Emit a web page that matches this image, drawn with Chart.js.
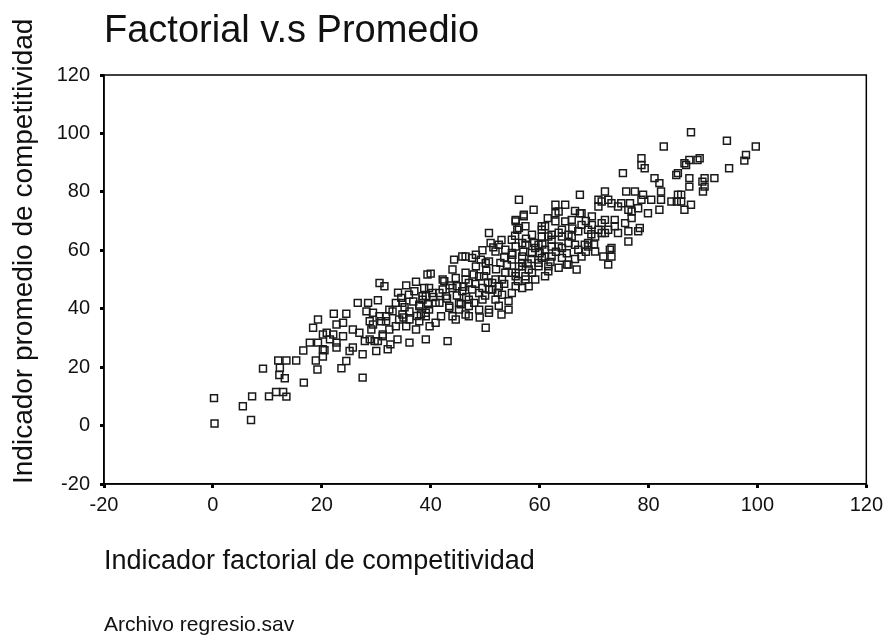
<!DOCTYPE html>
<html>
<head>
<meta charset="utf-8">
<script src="https://cdn.jsdelivr.net/npm/chart.js@4.4.1/dist/chart.umd.min.js"></script>
<style>
  html, body { margin: 0; padding: 0; background: #fff; }
  #wrap { position: relative; width: 888px; height: 636px; }
</style>
</head>
<body>
<div id="wrap"><canvas id="scatter"></canvas></div>
<script>
// Axis range shared by both scales
const AXIS_MIN = -20;
const AXIS_MAX = 120;
const AXIS_STEP = 20;

const TITLE = 'Factorial v.s Promedio';
const X_LABEL = 'Indicador factorial de competitividad';
const Y_LABEL = 'Indicador promedio de competitividad';
const SOURCE = 'Archivo regresio.sav';

// [factorial, promedio] pairs, grouped by part of the cloud
const lowerTail = [
  [0.3, 0.7], [0.2, 9.4], [7.0, 1.9], [5.5, 6.6], [7.2, 10.0], [10.3, 10.0], [11.6, 11.5], [12.9, 11.5], [13.5, 9.9], [16.7, 14.7],
  [9.2, 19.5], [12.0, 22.3], [13.5, 22.3], [15.3, 22.3], [12.3, 19.8], [12.2, 17.3], [13.2, 16.2], [19.2, 19.2], [18.9, 22.3], [20.2, 23.6],
  [16.6, 25.7], [17.8, 28.4], [20.5, 25.8], [19.3, 28.4], [18.4, 33.5], [19.3, 36.3], [20.2, 31.2], [22.1, 31.2], [22.2, 38.3], [22.7, 34.6],
  [24.5, 38.3], [23.9, 35.2], [22.7, 26.7], [23.6, 19.6], [24.5, 22.1], [25.7, 26.7], [27.5, 16.4], [26.9, 31.8], [27.5, 24.4], [26.6, 42.0],
  [28.5, 42.0], [30.3, 42.9], [30.6, 48.8], [31.5, 47.7], [29.7, 28.9], [30.0, 25.5], [27.9, 28.9], [29.1, 32.9], [30.9, 35.7], [31.8, 37.4],
  [29.4, 38.6], [31.2, 31.2], [32.1, 26.1], [28.8, 35.7], [30.3, 28.9]
];

const lowerBand = [
  [35.5, 48.0], [37.3, 49.2], [39.4, 51.7], [33.6, 42.0], [34.6, 43.7], [36.1, 28.4], [39.1, 29.5], [33.9, 29.5], [32.6, 27.8], [25.1, 25.5],
  [20.9, 31.8], [22.7, 28.4], [20.2, 26.1], [29.4, 34.6], [30.6, 37.4], [28.2, 39.1], [31.8, 35.7], [35.5, 34.0], [37.3, 32.9], [37.9, 35.7],
  [39.1, 38.6], [34.8, 38.0], [36.1, 39.1], [37.9, 41.4], [37.0, 46.0], [38.5, 44.3], [33.0, 39.1], [34.2, 36.3], [25.7, 32.9], [23.9, 30.6],
  [21.5, 29.5], [28.8, 29.5], [31.2, 30.6], [32.4, 32.9],
  [35.2, 40.5], [36.8, 42.5], [38.2, 38.0], [39.5, 41.5], [40.5, 44.0], [36.0, 44.8], [34.0, 45.5], [37.5, 37.5], [39.8, 34.0], [35.0, 37.0]
];

const middleBand = [
  [50.7, 65.9], [55.6, 69.9], [57.4, 68.2], [61.0, 68.2], [62.9, 69.9], [64.7, 69.9], [58.6, 65.3], [60.4, 64.7], [62.2, 65.3], [64.1, 64.7],
  [40.0, 52.0], [44.3, 56.8], [46.4, 57.9], [48.3, 58.5], [50.1, 55.7], [51.9, 59.6], [53.7, 60.2], [55.6, 61.3], [57.4, 61.9], [59.2, 60.8],
  [61.0, 57.9], [61.6, 54.5], [61.6, 52.8], [65.0, 55.1], [44.0, 53.4], [44.9, 47.7], [47.0, 48.8], [48.9, 51.1], [51.3, 48.8], [53.1, 50.0],
  [54.9, 52.3], [56.8, 54.5], [58.6, 52.3], [54.3, 42.6], [54.3, 39.7], [51.9, 43.1], [48.9, 39.7], [47.0, 43.1], [45.2, 39.7], [43.4, 40.3],
  [41.9, 37.4], [50.1, 33.5], [43.1, 28.9], [41.6, 45.4], [39.1, 44.3], [48.9, 45.4], [50.7, 46.6], [55.6, 47.7], [57.4, 50.0], [59.8, 55.7],
  [48.3, 54.5], [46.4, 52.3], [42.2, 50.0], [39.7, 47.1], [37.9, 40.9], [34.8, 42.0], [32.4, 39.7], [33.6, 34.0], [36.1, 36.3], [40.9, 35.2],
  [44.6, 36.3], [40.9, 42.0], [50.7, 38.6], [46.4, 38.0],
  [55.6, 70.4], [57.1, 71.6], [56.2, 67.6], [45.8, 57.9], [47.6, 57.4], [49.2, 56.8], [51.0, 62.5], [52.5, 61.9], [50.7, 56.2], [52.8, 55.7],
  [54.9, 56.8], [56.8, 55.7], [53.7, 52.3], [55.6, 52.3], [57.4, 51.1], [51.9, 50.0], [49.8, 51.1], [47.9, 51.7], [46.4, 50.0], [44.6, 50.5],
  [42.5, 49.4], [38.8, 47.1], [40.3, 45.4], [42.2, 46.6], [44.0, 47.1], [45.8, 46.0], [47.6, 46.6], [49.5, 47.1], [51.3, 46.6], [53.1, 44.8],
  [54.9, 45.4], [56.8, 47.1], [47.0, 40.9], [45.2, 42.0], [43.4, 40.9], [41.6, 42.0], [39.7, 39.7], [38.5, 43.1], [50.7, 39.7], [47.0, 37.4],
  [44.0, 37.4], [39.1, 37.4], [42.8, 44.3], [49.5, 43.1], [52.5, 47.7],
  [43.0, 43.5], [44.8, 44.5], [46.5, 44.0], [48.0, 42.0], [50.0, 44.5], [52.3, 45.5], [53.5, 48.5], [50.5, 49.0], [48.2, 48.5], [46.0, 47.5],
  [43.5, 48.0], [45.5, 41.5], [52.5, 41.0], [49.0, 37.0], [53.0, 38.0],
  [52.0, 53.5], [53.5, 57.5], [55.0, 58.5], [57.0, 59.5], [58.5, 57.0], [60.0, 59.0], [59.0, 62.5], [57.5, 64.0], [55.5, 65.0], [53.0, 63.5],
  [51.5, 61.0], [49.5, 60.0], [50.2, 53.0], [57.8, 55.5], [60.5, 62.0], [54.0, 55.0], [56.0, 49.5]
];

const upperBand = [
  [56.2, 77.3], [58.9, 73.9], [57.1, 72.2], [55.9, 67.0], [62.9, 72.7], [67.4, 72.7], [71.4, 69.3], [60.4, 67.0], [61.6, 64.7], [65.3, 65.3],
  [68.9, 67.0], [70.8, 67.0], [72.6, 67.0], [54.9, 63.6], [56.8, 62.5], [59.8, 61.9], [62.2, 61.3], [64.1, 60.8], [66.5, 61.9], [68.3, 61.9],
  [70.2, 59.6], [62.2, 57.9], [60.4, 57.4], [64.1, 57.4], [58.6, 59.1], [56.8, 57.9], [54.9, 59.1], [56.2, 54.5], [58.0, 53.4], [59.8, 54.5],
  [63.5, 54.0], [55.6, 51.1], [59.2, 50.0], [61.0, 51.1], [58.0, 47.7], [68.9, 61.3],
  [62.9, 75.6], [64.7, 75.6], [63.5, 73.3], [67.7, 72.7], [69.6, 71.6], [72.9, 60.2], [73.2, 57.9], [71.7, 57.9], [72.6, 55.1], [65.3, 55.1],
  [66.8, 53.4], [67.7, 57.9], [74.4, 65.9], [72.0, 65.9], [70.2, 64.7], [68.9, 62.5], [67.1, 60.2], [65.9, 64.7], [64.1, 67.0], [62.2, 63.6],
  [61.0, 60.2], [60.4, 68.2], [67.7, 68.7], [69.6, 68.7], [73.8, 70.4], [72.0, 70.4], [75.7, 69.3], [65.9, 70.4], [63.5, 61.3], [65.3, 62.5],
  [67.1, 66.5], [73.2, 60.8], [73.8, 68.2], [71.4, 65.9],
  [63.0, 59.5], [65.0, 59.0], [66.5, 57.0], [68.5, 59.5], [70.0, 62.0], [69.5, 65.5], [66.0, 67.5], [63.5, 66.0], [61.5, 71.0], [66.5, 73.5],
  [68.5, 70.0], [62.0, 56.0]
];

const upperTail = [
  [75.3, 86.4], [78.7, 89.2], [79.3, 88.1], [86.6, 89.8], [89.0, 90.9], [94.8, 88.1], [85.1, 85.8], [87.5, 84.7], [87.5, 81.8], [90.3, 84.7],
  [92.1, 84.7], [90.0, 80.1], [81.1, 84.7], [82.0, 83.0], [82.3, 80.1], [82.3, 77.3], [82.0, 73.9], [80.5, 77.3], [75.9, 80.1], [77.5, 80.1],
  [79.0, 79.0], [79.9, 72.7], [85.4, 79.0], [84.2, 76.7], [86.0, 76.7], [87.8, 75.6], [86.6, 73.9], [72.0, 80.1], [67.4, 79.0], [70.8, 77.3],
  [72.6, 77.3], [75.0, 76.1], [76.6, 76.1], [74.4, 75.0], [70.8, 75.0], [76.9, 73.3], [78.4, 67.6], [78.1, 66.5], [76.3, 63.0], [76.3, 66.5],
  [87.8, 100.4], [94.4, 97.5], [99.7, 95.5], [97.9, 92.6], [97.6, 90.7], [89.4, 91.5], [87.5, 90.9], [86.9, 89.2], [90.3, 81.8], [86.0, 79.0],
  [82.8, 95.5], [78.7, 91.5], [85.4, 86.4], [89.9, 83.5], [85.2, 76.7], [78.7, 77.3], [71.4, 76.7], [73.2, 76.1], [76.3, 73.9], [78.1, 74.4],
  [76.9, 71.0]
];

const FONT = "'Liberation Sans', Arial, Helvetica, sans-serif";
const INK = '#111';

const points = [...lowerTail, ...lowerBand, ...middleBand, ...upperBand, ...upperTail]
  .map(([x, y]) => ({ x, y }));

// Closed box around the plot area (top and right edges)
const plotFrame = {
  id: 'plotFrame',
  beforeDatasetsDraw(chart) {
    const { ctx, chartArea: a } = chart;
    ctx.save();
    ctx.strokeStyle = '#000';
    ctx.lineWidth = 1.5;
    ctx.strokeRect(a.left, a.top, a.right - a.left, a.bottom - a.top);
    ctx.restore();
  },
};

function axisOptions(label, extra) {
  return {
    type: 'linear',
    min: AXIS_MIN,
    max: AXIS_MAX,
    ticks: { stepSize: AXIS_STEP, color: INK, font: { family: FONT, size: 20 } },
    grid: { drawOnChartArea: false, drawTicks: true, tickLength: 4, tickWidth: 3, tickColor: '#000' },
    border: { display: true, color: '#000', width: 1.5 },
    title: { display: true, text: label, align: 'start', color: INK },
    ...extra,
  };
}

const xAxis = axisOptions(X_LABEL);
xAxis.ticks.padding = 5;
xAxis.title.font = { family: FONT, size: 27 };
xAxis.title.padding = { top: 23.3, bottom: 0 };

const yAxis = axisOptions(Y_LABEL, {
  afterFit(scale) { scale.width = 104; },
});
yAxis.ticks.padding = 10;
yAxis.title.font = { family: FONT, size: 28 };
yAxis.title.padding = { top: 7.2, bottom: 0 };

new Chart(document.getElementById('scatter'), {
  type: 'scatter',
  data: {
    datasets: [{
      data: points,
      pointStyle: 'rect',
      pointRadius: 4.9,
      pointBorderWidth: 1.5,
      borderColor: '#1a1a1a',
      backgroundColor: 'rgba(0,0,0,0)',
    }],
  },
  options: {
    responsive: true,
    maintainAspectRatio: false,
    animation: false,
    events: [],
    layout: { padding: { left: 0, right: 19, top: 0, bottom: 0 } },
    plugins: {
      legend: { display: false },
      tooltip: { enabled: false },
      title: {
        display: true,
        text: TITLE,
        align: 'start',
        fullSize: false,
        color: INK,
        font: { family: FONT, size: 38, weight: 'normal', lineHeight: 1.2 },
        padding: { top: 9, bottom: 20.4 },
      },
      subtitle: {
        display: true,
        text: SOURCE,
        position: 'bottom',
        align: 'start',
        fullSize: false,
        color: INK,
        font: { family: FONT, size: 21, lineHeight: 1.0 },
        padding: { top: 36.8, bottom: 0.5 },
      },
    },
    scales: { x: xAxis, y: yAxis },
  },
  plugins: [plotFrame],
});
</script>
</body>
</html>
